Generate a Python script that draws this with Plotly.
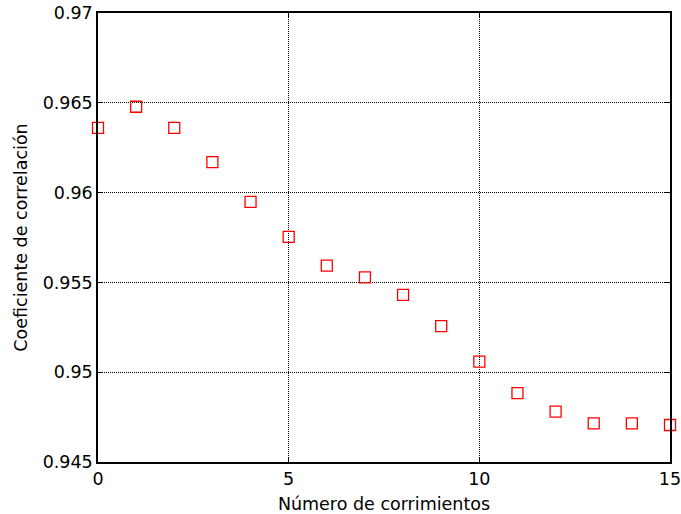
import plotly.graph_objects as go

shifts = list(range(16))
corr = [0.96360, 0.96478, 0.96360, 0.96170, 0.95948, 0.95753, 0.95593, 0.95528,
        0.95431, 0.95256, 0.95059, 0.94883, 0.94780, 0.94715, 0.94715, 0.94706]

x_ticks = [0, 5, 10, 15]
y_ticks = [0.945, 0.95, 0.955, 0.96, 0.965, 0.97]
y_labels = ["0.945", "0.95", "0.955", "0.96", "0.965", "0.97"]

fig = go.Figure()
fig.add_trace(go.Scatter(
    x=shifts, y=corr, mode="markers",
    marker=dict(symbol="square-open", size=11, color="red", line=dict(width=1.3, color="red")),
    cliponaxis=False, showlegend=False,
))

font = dict(family="DejaVu Sans", size=17.5, color="black")
axis_common = dict(
    showline=True, linecolor="black", linewidth=1.5, mirror="ticks",
    ticks="inside", ticklen=5, tickcolor="black", tickwidth=1,
    showgrid=True, gridcolor="black", gridwidth=1, griddash="1px,1px",
    zeroline=False, tickfont=font, automargin=False, ticklabeloverflow="allow",
)
fig.update_layout(
    width=681, height=514,
    margin=dict(l=98, r=11, t=13, b=52),
    paper_bgcolor="white", plot_bgcolor="white",
    font=font,
    xaxis=dict(range=[0, 15], tickvals=x_ticks, ticktext=[str(v) for v in x_ticks],
               title=dict(text="Número de corrimientos", font=font, standoff=10), **axis_common),
    yaxis=dict(range=[0.945, 0.97], tickvals=y_ticks, ticktext=y_labels,
               title=dict(text="Coeficiente de correlación", font=font, standoff=11), **axis_common),
)
fig.write_html("out.html")
